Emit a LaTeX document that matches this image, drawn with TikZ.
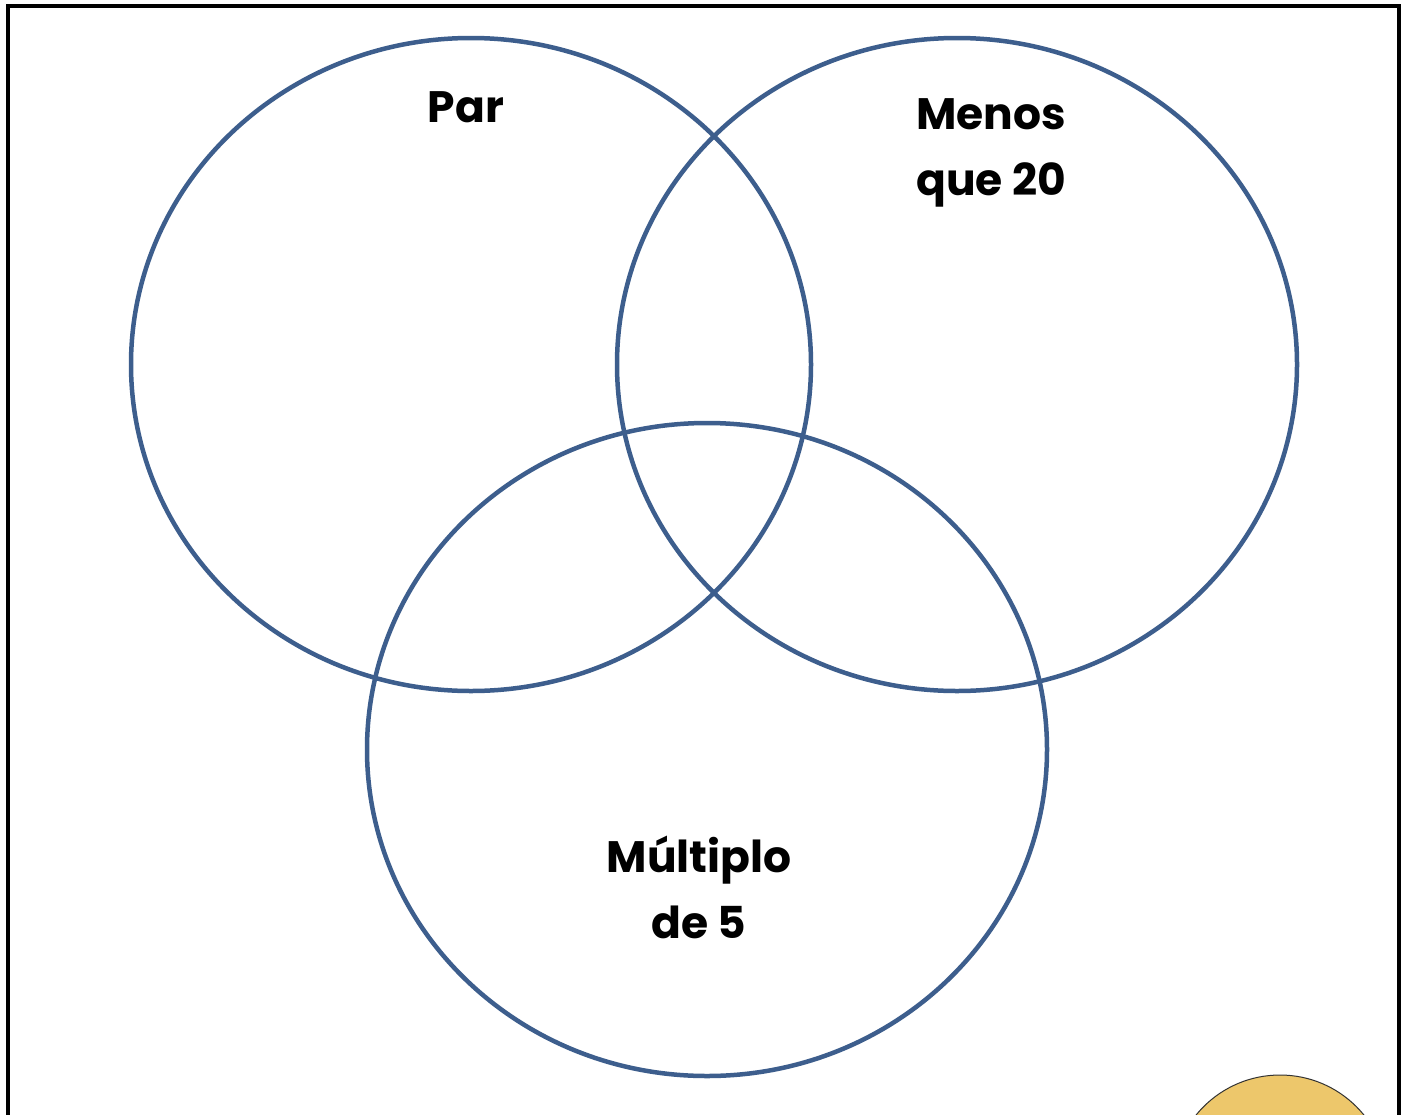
\documentclass[tikz,border=0pt]{standalone}
\usepackage{fontspec}
\setmainfont{Poppins}
\usetikzlibrary{shapes.geometric}
\definecolor{vennblue}{RGB}{61,94,141}
\definecolor{sunyellow}{RGB}{237,199,107}
\begin{document}
\begin{tikzpicture}[x=1pt,y=-1pt,
  setring/.style={draw=vennblue,line width=4.5pt,ellipse,minimum width=680pt,minimum height=653pt,inner sep=0pt},
  setlabel/.style={font=\fontsize{44}{66}\selectfont\bfseries,align=center,anchor=base,inner sep=0pt}]
\useasboundingbox (0,0) rectangle (1405,1114);
\clip (0,0) rectangle (1405,1114);
\fill[white] (0,0) rectangle (1405,1114);
\draw[line width=4.5pt] (8,1130) -- (8,6) -- (1399,6) -- (1399,1130);
\node[setring] (par) at (471,364.5) {};
\node[setring] (menos) at (957,364.5) {};
\node[setring] (mult) at (707,749.5) {};
\node[setlabel] (lpar) at (466,122) {Par};
\node[setlabel] (lmenos) at (991,195) {Menos\\que 20};
\node[setlabel] (lmult) at (699,938) {Múltiplo\\de 5};
\node[circle,fill=sunyellow,draw=black!80,line width=1pt,minimum size=216pt,inner sep=0pt] (sun) at (1280,1183) {};
\end{tikzpicture}
\end{document}
